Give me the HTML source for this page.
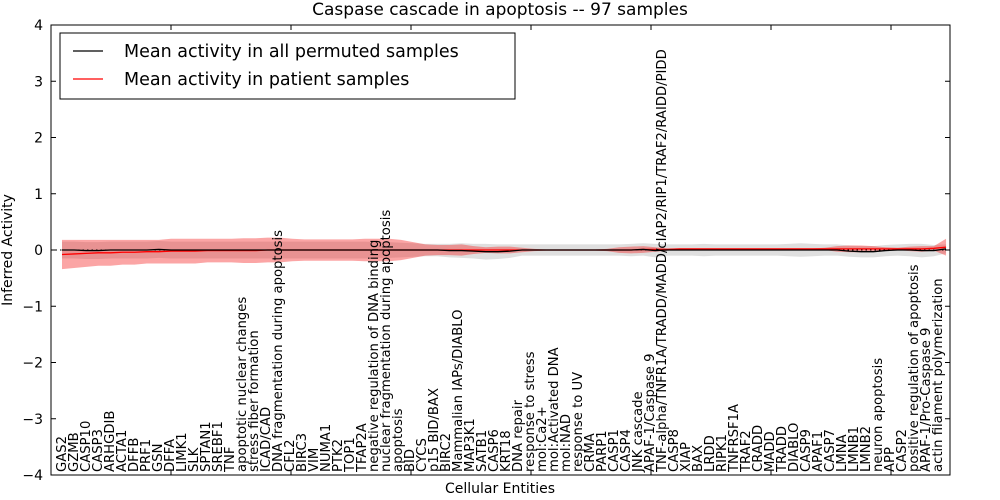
<!DOCTYPE html>
<html><head><meta charset="utf-8"><style>
html,body{margin:0;background:#fff;overflow:hidden;width:1000px;height:500px;}
svg{display:block;}
svg text{font-family:"DejaVu Sans","Liberation Sans",sans-serif;}
</style></head><body>
<svg id="chart" width="1000" height="500" xmlns="http://www.w3.org/2000/svg"></svg>
<script>
const categories=["GAS2","GZMB","CASP10","CASP3","ARHGDIB","ACTA1","DFFB","PRF1","GSN","DFFA","LIMK1","SLK","SPTAN1","SREBF1","TNF","apoptotic nuclear changes","stress fiber formation","ICAD/CAD","DNA fragmentation during apoptosis","CFL2","BIRC3","VIM","NUMA1","PTK2","TOP1","TFAP2A","negative regulation of DNA binding","nuclear fragmentation during apoptosis","apoptosis","BID","CYCS","p15 BID/BAX","BIRC2","Mammalian IAPs/DIABLO","MAP3K1","SATB1","CASP6","KRT18","DNA repair","response to stress","mol:Ca2+","mol:Activated DNA","mol:NAD","response to UV","CRMA","PARP1","CASP1","CASP4","JNK cascade","APAF-1/Caspase 9","TNF-alpha/TNFR1A/TRADD/MADD/cIAP2/RIP1/TRAF2/RAIDD/PIDD","CASP8","XIAP","BAX","LRDD","RIPK1","TNFRSF1A","TRAF2","CRADD","MADD","TRADD","DIABLO","CASP9","APAF1","CASP7","LMNA","LMNB1","LMNB2","neuron apoptosis","APP","CASP2","positive regulation of apoptosis","APAF-1/Pro-Caspase 9","actin filament polymerization"];
const permMean=[0,0,-0.01,-0.01,0,0,0,0,0.01,0,0,0,0,0,0,0,0,0,0,0,0,0,0,0,0,0,0,0,0,0,0,0,-0.01,-0.01,-0.02,-0.03,-0.03,-0.02,0,0,0,0,0,0,0,0,0,0,0.01,-0.01,0,0,0,0,0,0,0,0,0,0,0,0,0,0,0,-0.02,-0.03,-0.03,-0.01,0,0,-0.01,-0.01,0.02];
const permStd=[0.15,0.15,0.15,0.15,0.15,0.15,0.15,0.15,0.15,0.15,0.15,0.15,0.15,0.15,0.15,0.15,0.15,0.15,0.15,0.15,0.15,0.15,0.15,0.15,0.15,0.15,0.14,0.14,0.13,0.12,0.11,0.11,0.12,0.13,0.13,0.14,0.13,0.12,0.1,0.1,0.1,0.1,0.1,0.1,0.1,0.1,0.1,0.11,0.11,0.12,0.1,0.1,0.1,0.11,0.1,0.1,0.1,0.1,0.1,0.1,0.11,0.12,0.11,0.1,0.1,0.1,0.1,0.1,0.1,0.1,0.11,0.12,0.1,0.08];
const patientMean=[-0.08,-0.07,-0.06,-0.05,-0.05,-0.04,-0.04,-0.03,-0.03,-0.02,-0.02,-0.02,-0.01,-0.01,-0.01,-0.01,-0.01,0,0,0,0,0,0,0,0,0,0,0,0,0,0,0,0,0,0,0,0,0,0,0,0,0,0,0,0,0,0,0,0.01,0.01,0.01,0.02,0.02,0.02,0.02,0.02,0.02,0.02,0.02,0.02,0.02,0.02,0.02,0.02,0.02,0.02,0.02,0.02,0.02,0.02,0.02,0.02,0.03,0.05];
const patientStd=[0.26,0.25,0.24,0.23,0.23,0.22,0.22,0.21,0.21,0.22,0.22,0.22,0.21,0.21,0.21,0.22,0.22,0.22,0.22,0.2,0.19,0.19,0.19,0.19,0.19,0.2,0.2,0.2,0.18,0.14,0.1,0.09,0.09,0.1,0.07,0.05,0.06,0.06,0.04,0.02,0.01,0.01,0.01,0.01,0.01,0.02,0.05,0.06,0.06,0.04,0.02,0.01,0.01,0.01,0.01,0.01,0.01,0.01,0.01,0.01,0.01,0.01,0.01,0.02,0.05,0.06,0.06,0.05,0.03,0.02,0.04,0.05,0.04,0.15];
const yTicks=[-4,-3,-2,-1,0,1,2,3,4];

const NS="http://www.w3.org/2000/svg";
const svg=document.getElementById('chart');
const L=51,R=950,T=25,B=475;
const yS=v=>250-v*(B-T)/8;
const xS=i=>62+i*12.11;
function mk(tag,attrs,text){const e=document.createElementNS(NS,tag);for(const k in attrs)e.setAttribute(k,attrs[k]);if(text!==undefined)e.textContent=text;svg.appendChild(e);return e;}

function band(mean,std,fill,name){
  let d="";
  mean.forEach((m,i)=>{d+=(i?"L":"M")+xS(i)+","+yS(m+std[i]);});
  for(let i=mean.length-1;i>=0;i--)d+="L"+xS(i)+","+yS(mean[i]-std[i]);
  const p=mk('path',{d:d+"Z",fill:fill,stroke:'none'});
  
  
}
function line(mean,col,name){
  const p=mk('polyline',{points:mean.map((m,i)=>xS(i)+","+yS(m)).join(" "),fill:'none',stroke:col,'stroke-width':1.3});
  
  
}
band(permMean,permStd,'rgba(140,140,140,0.28)','permuted-std-band');
band(patientMean,patientStd,'rgba(245,30,30,0.4)','patient-std-band');
const z=mk('line',{x1:L,x2:R,y1:yS(0),y2:yS(0),stroke:'#000','stroke-dasharray':'1.5,3','stroke-width':1});


line(patientMean,'#f00','patient-mean-line');
line(permMean,'#000','permuted-mean-line');

categories.forEach((c,i)=>{
  const x=66+12*i,y=472;
  const t=mk('text',{x:x,y:y,'text-anchor':'start','font-size':13.2,transform:`rotate(-90 ${x} ${y})`},c);
  
  
});

const fr=mk('rect',{x:L,y:T,width:R-L,height:B-T,fill:'none',stroke:'#000','stroke-width':1});


yTicks.forEach(v=>{
  const y=yS(v);
  mk('line',{x1:L,x2:L+5,y1:y,y2:y,stroke:'#000'});
  mk('line',{x1:R-5,x2:R,y1:y,y2:y,stroke:'#000'});
  const t=mk('text',{x:L-8,y:y+5,'text-anchor':'end','font-size':14},(v<0?"\u2212":"")+Math.abs(v));
  
  
});
for(let k=10;k<75;k+=10){
  const x=L+12*k;
  mk('line',{x1:x,x2:x,y1:T,y2:T+5,stroke:'#000'});
  mk('line',{x1:x,x2:x,y1:B-5,y2:B,stroke:'#000'});
}
const ti=mk('text',{x:500,y:15,'text-anchor':'middle','font-size':17},'Caspase cascade in apoptosis -- 97 samples');


const xl=mk('text',{x:500,y:493,'text-anchor':'middle','font-size':14},'Cellular Entities');


const yl=mk('text',{x:12,y:250,'text-anchor':'middle','font-size':14,transform:'rotate(-90 12 250)'},'Inferred Activity');



const lg=mk('rect',{x:60,y:33,width:455,height:66,fill:'#fff',stroke:'#000','stroke-width':1});


mk('line',{x1:73,x2:103,y1:51,y2:51,stroke:'#000','stroke-width':1.3});
const l1=mk('text',{x:124,y:57,'font-size':17.5},'Mean activity in all permuted samples');


mk('line',{x1:73,x2:103,y1:79,y2:79,stroke:'#f00','stroke-width':1.3});
const l2=mk('text',{x:124,y:85,'font-size':17.5},'Mean activity in patient samples');


</script>
</body></html>
